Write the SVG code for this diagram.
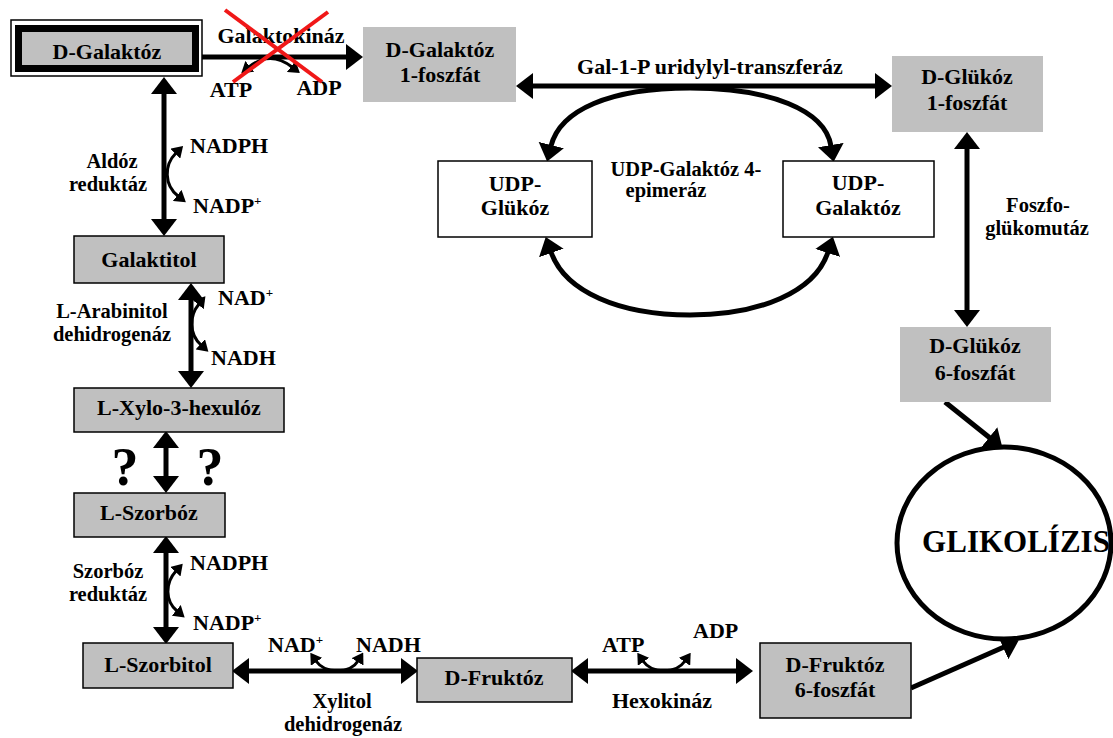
<svg xmlns="http://www.w3.org/2000/svg" width="1113" height="738" viewBox="0 0 1113 738">
<style>
text{font-family:"Liberation Serif","Times New Roman",serif;font-weight:bold;font-size:22px;fill:#000}
.m{text-anchor:middle}
.e{font-size:20.5px}
.g{fill:#c0c0c0;stroke:none}
.gb{fill:#c0c0c0;stroke:#000;stroke-width:1.5}
.w{fill:#fff;stroke:#000;stroke-width:1.5}
.ln{fill:none;stroke:#000;stroke-width:5}
.sm{fill:none;stroke:#000;stroke-width:3}
.sup{font-size:13px}
.q{font-size:54px}
</style>
<defs>
<marker id="ah" markerUnits="userSpaceOnUse" markerWidth="17" markerHeight="26" refX="1" refY="13" orient="auto-start-reverse" viewBox="0 0 17 26">
<path d="M0,0 L17,13 L0,26 z" fill="#000"/>
</marker>
<marker id="as" markerUnits="userSpaceOnUse" markerWidth="11" markerHeight="14" refX="1" refY="7" orient="auto-start-reverse" viewBox="0 0 11 14">
<path d="M0,0 L11,7 L0,14 z" fill="#000"/>
</marker>
</defs>
<rect width="1113" height="738" fill="#fff"/>

<g id="connectors">
<line class="ln" x1="202" y1="57" x2="347" y2="57" marker-end="url(#ah)"/>
<path class="sm" d="M249,67 Q270,50 292,67" marker-start="url(#as)" marker-end="url(#as)"/>
<line class="ln" x1="532" y1="86" x2="876" y2="86" marker-start="url(#ah)" marker-end="url(#ah)"/>
<path class="ln" d="M551,146 C560,110 610,88 690,88 C770,88 825,110 831,146" marker-start="url(#ah)" marker-end="url(#ah)"/>
<path class="ln" d="M551,252 C565,292 620,315 690,315 C760,315 815,292 828,252" marker-start="url(#ah)" marker-end="url(#ah)"/>
<line class="ln" x1="967" y1="148" x2="967" y2="311" marker-start="url(#ah)" marker-end="url(#ah)"/>
<line class="ln" x1="945" y1="402" x2="990" y2="438" marker-end="url(#ah)"/>
<line class="ln" x1="911" y1="688" x2="1004" y2="647" marker-end="url(#ah)"/>
<line class="ln" x1="164" y1="93" x2="164" y2="220" marker-start="url(#ah)" marker-end="url(#ah)"/>
<path class="sm" d="M176,153 C164,165 164,185 178,196" marker-start="url(#as)" marker-end="url(#as)"/>
<line class="ln" x1="191" y1="299" x2="191" y2="372" marker-start="url(#ah)" marker-end="url(#ah)"/>
<path class="sm" d="M199,304 C189,316 189,334 201,345" marker-start="url(#as)" marker-end="url(#as)"/>
<line class="ln" x1="166" y1="447" x2="166" y2="477" marker-start="url(#ah)" marker-end="url(#ah)"/>
<line class="ln" x1="166" y1="552" x2="166" y2="628" marker-start="url(#ah)" marker-end="url(#ah)"/>
<path class="sm" d="M176,571 C165,583 165,601 177,611" marker-start="url(#as)" marker-end="url(#as)"/>
<line class="ln" x1="248" y1="671" x2="402" y2="671" marker-start="url(#ah)" marker-end="url(#ah)"/>
<path class="sm" d="M316,661 C325,674 350,674 358,661" marker-start="url(#as)" marker-end="url(#as)"/>
<line class="ln" x1="587" y1="671" x2="737" y2="671" marker-start="url(#ah)" marker-end="url(#ah)"/>
<path class="sm" d="M643,661 C652,674 676,674 685,661" marker-start="url(#as)" marker-end="url(#as)"/>
</g>

<g id="n-dgalaktoz">
<rect x="11" y="20" width="191" height="56" fill="#fff" stroke="#000" stroke-width="1.5"/>
<rect x="18.5" y="28.5" width="177" height="40" fill="#c0c0c0" stroke="#000" stroke-width="7"/>
<text class="m" x="107" y="59">D-Galaktóz</text>
</g>

<g id="galaktokinaz-label">
<text class="m" x="281" y="43">Galaktokináz</text>
<text class="m" x="231" y="97">ATP</text>
<text class="m" x="319" y="95">ADP</text>
</g>

<g id="n-dgal1p">
<rect class="g" x="363" y="27" width="153" height="75"/>
<text class="m" x="440" y="57">D-Galaktóz</text>
<text class="m" x="440" y="82">1-foszfát</text>
</g>

<g id="gal1p-label">
<text class="m" x="710" y="74">Gal-1-P uridylyl-transzferáz</text>
</g>

<g id="n-dglu1p">
<rect class="g" x="892" y="56" width="151" height="76"/>
<text class="m" x="967" y="84">D-Glükóz</text>
<text class="m" x="967" y="110">1-foszfát</text>
</g>

<g id="n-udpglukoz">
<rect class="w" x="438" y="161" width="154" height="76"/>
<text class="m" x="515" y="191">UDP-</text>
<text class="m" x="515" y="215">Glükóz</text>
</g>

<g id="epimeraz-label">
<text class="m e" x="686" y="176">UDP-Galaktóz 4-</text>
<text class="m e" x="666" y="197">epimeráz</text>
</g>

<g id="n-udpgalaktoz">
<rect class="w" x="783" y="161" width="151" height="76"/>
<text class="m" x="858" y="190">UDP-</text>
<text class="m" x="858" y="215">Galaktóz</text>
</g>

<g id="foszfoglukomutaz-label">
<text class="m e" x="1038" y="212">Foszfo-</text>
<text class="m e" x="1037" y="235">glükomutáz</text>
</g>

<g id="n-dglu6p">
<rect class="g" x="900" y="327" width="151" height="75"/>
<text class="m" x="975" y="353">D-Glükóz</text>
<text class="m" x="975" y="380">6-foszfát</text>
</g>

<g id="n-glikolizis">
<ellipse cx="1004" cy="543" rx="107" ry="96" fill="#fff" stroke="#000" stroke-width="5"/>
<text class="m" x="1016" y="552" style="font-size:31px">GLIKOLÍZIS</text>
</g>

<g id="aldoz-label">
<text class="m e" x="112" y="168">Aldóz</text>
<text class="m e" x="108" y="191">reduktáz</text>
<text x="190" y="153">NADPH</text>
<text x="193" y="213">NADP<tspan class="sup" dy="-8">+</tspan></text>
</g>

<g id="n-galaktitol">
<rect class="gb" x="74" y="236" width="150" height="47"/>
<text class="m" x="149" y="267">Galaktitol</text>
</g>

<g id="arabinitol-label">
<text class="m e" x="112" y="318">L-Arabinitol</text>
<text class="m e" x="112" y="341">dehidrogenáz</text>
<text x="218" y="305">NAD<tspan class="sup" dy="-8">+</tspan></text>
<text x="211" y="365">NADH</text>
</g>

<g id="n-lxylo">
<rect class="gb" x="74" y="388" width="210" height="44"/>
<text class="m" x="179" y="415">L-Xylo-3-hexulóz</text>
</g>

<g id="question-marks">
<text class="m q" x="125" y="485">?</text>
<text class="m q" x="210" y="485">?</text>
</g>

<g id="n-lszorboz">
<rect class="gb" x="74" y="493" width="151" height="44"/>
<text class="m" x="149" y="520">L-Szorbóz</text>
</g>

<g id="szorboz-label">
<text class="m e" x="108" y="578">Szorbóz</text>
<text class="m e" x="108" y="601">reduktáz</text>
<text x="190" y="570">NADPH</text>
<text x="193" y="630">NADP<tspan class="sup" dy="-8">+</tspan></text>
</g>

<g id="n-lszorbitol">
<rect class="gb" x="83" y="643" width="150" height="45"/>
<text class="m" x="158" y="672">L-Szorbitol</text>
</g>

<g id="xylitol-label">
<text x="268" y="652">NAD<tspan class="sup" dy="-8">+</tspan></text>
<text x="356" y="652">NADH</text>
<text class="m e" x="342" y="708">Xylitol</text>
<text class="m e" x="343" y="731">dehidrogenáz</text>
</g>

<g id="n-dfruktoz">
<rect class="gb" x="417" y="658" width="155" height="44"/>
<text class="m" x="494" y="685">D-Fruktóz</text>
</g>

<g id="hexokinaz-label">
<text x="602" y="652">ATP</text>
<text x="693" y="638">ADP</text>
<text class="m" x="662" y="708">Hexokináz</text>
</g>

<g id="n-dfru6p">
<rect class="gb" x="760" y="643" width="151" height="75"/>
<text class="m" x="835" y="672">D-Fruktóz</text>
<text class="m" x="835" y="697">6-foszfát</text>
</g>

<g id="red-cross">
<line x1="225" y1="10" x2="322" y2="82" stroke="#f01818" stroke-width="4"/>
<line x1="328" y1="12" x2="233" y2="82" stroke="#f01818" stroke-width="4"/>
</g>
</svg>
